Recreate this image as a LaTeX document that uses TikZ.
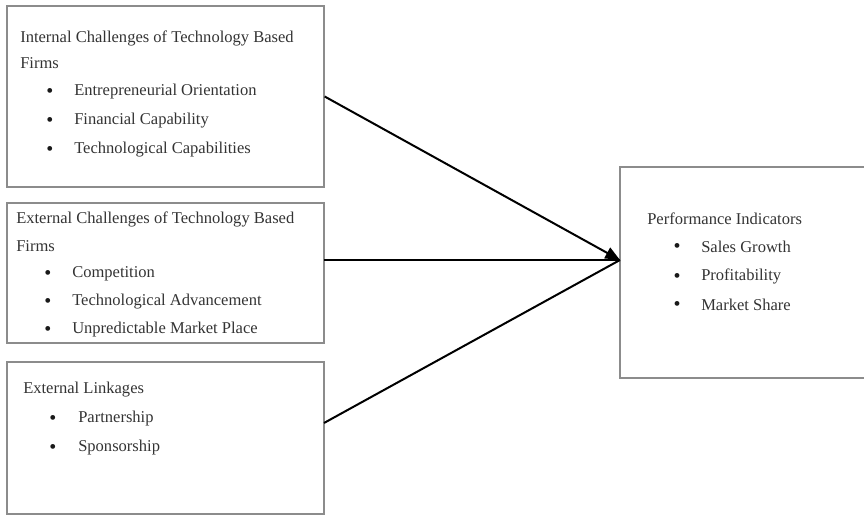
\documentclass[tikz,border=0pt]{standalone}
\usepackage{fontspec}
\setmainfont{Liberation Serif}
\usetikzlibrary{arrows.meta,positioning}
\begin{document}
\begin{tikzpicture}[x=0.75pt,y=-0.75pt,
  box/.style={draw=black!45,line width=1pt,inner sep=0pt},
  txt/.style={anchor=west,inner sep=0pt,text=black!80,font=\fontsize{12.4}{14}\selectfont},
  bul/.style={anchor=center,inner sep=0pt,text=black!90,font=\fontsize{15}{16}\selectfont},
  conn/.style={line width=1.5pt,black}]
\useasboundingbox (0,0) rectangle (864,516);
% boxes
\node[box,minimum width=317*0.75pt,minimum height=181*0.75pt] (int) at (165.5,96.5) {};
\node[box,minimum width=317*0.75pt,minimum height=140*0.75pt] (ext) at (165.5,273) {};
\node[box,minimum width=317*0.75pt,minimum height=152*0.75pt] (link) at (165.5,438) {};
\node[box,minimum width=246*0.75pt,minimum height=211*0.75pt] (perf) at (743,272.5) {};
% box 1 text
\node[txt] (t1) at (20,38.5) {Internal Challenges of Technology Based};
\node[txt] (t1b) at (20,63.5) {Firms};
\node[bul] (b11) at (50,93) {•};
\node[txt] (i11) at (74,91.5) {Entrepreneurial Orientation};
\node[bul] (b12) at (50,122) {•};
\node[txt] (i12) at (74,120.5) {Financial Capability};
\node[bul] (b13) at (50,151) {•};
\node[txt] (i13) at (74,149.5) {Technological Capabilities};
% box 2 text
\node[txt] (t2) at (16,219.5) {External Challenges of Technology Based};
\node[txt] (t2b) at (16,246.5) {Firms};
\node[bul] (b21) at (48,275) {•};
\node[txt] (i21) at (72,273.5) {Competition};
\node[bul] (b22) at (48,303) {•};
\node[txt] (i22) at (72,301.5) {Technological Advancement};
\node[bul] (b23) at (48,331) {•};
\node[txt] (i23) at (72,329.5) {Unpredictable Market Place};
% box 3 text
\node[txt] (t3) at (23,389.5) {External Linkages};
\node[bul] (b31) at (53,420) {•};
\node[txt] (i31) at (78,418.5) {Partnership};
\node[bul] (b32) at (53,449) {•};
\node[txt] (i32) at (78,447.5) {Sponsorship};
% box 4 text
\node[txt] (t4) at (647,218.5) {Performance Indicators};
\node[bul] (b41) at (677,248) {•};
\node[txt] (i41) at (701,246.5) {Sales Growth};
\node[bul] (b42) at (677,278) {•};
\node[txt] (i42) at (701,276.5) {Profitability};
\node[bul] (b43) at (677,306) {•};
\node[txt] (i43) at (701,304.5) {Market Share};
% connectors
\coordinate (tgt) at (620,260);
\coordinate (s2) at (324,260);
\coordinate (s3) at (324,423);
\draw[conn,-{Triangle[length=11pt,width=9pt]}] (int.east) -- (tgt);
\draw[conn] (s2) -- (tgt);
\draw[conn] (s3) -- (tgt);
\end{tikzpicture}
\end{document}
